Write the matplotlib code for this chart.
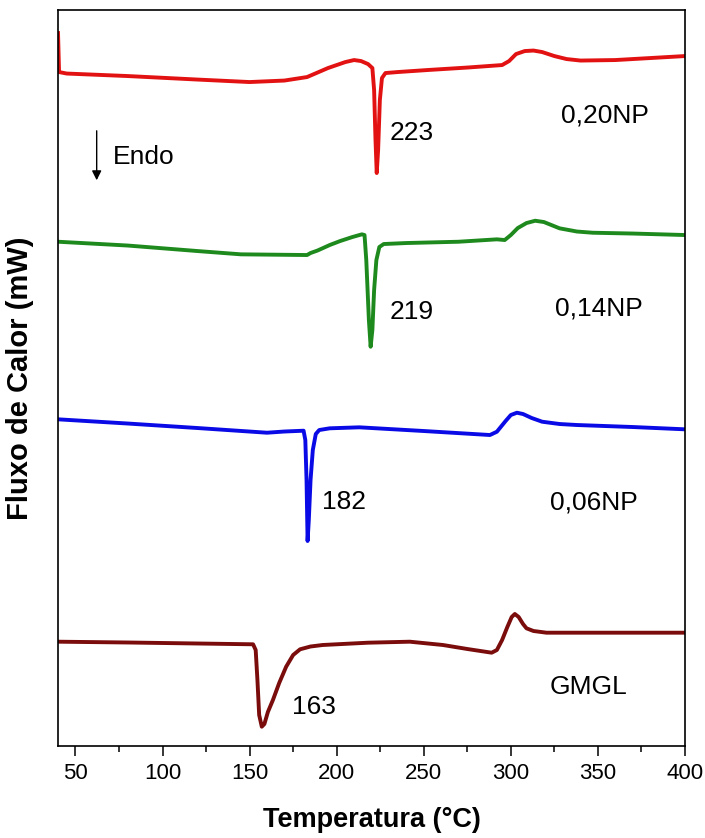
import matplotlib
matplotlib.use('Agg')
import matplotlib.pyplot as plt
from matplotlib.ticker import MultipleLocator

plt.rcParams['font.family'] = ['Liberation Sans', 'DejaVu Sans']

# DSC curves: temperature (C) and heat flow (arbitrary units)
t_020 = [40, 40.6, 45, 80, 120, 150, 170, 183, 195, 205, 210, 214, 218, 220.5, 221.5,
         222.3, 223, 223.8, 224.8, 226, 228, 235, 252, 275, 295, 299, 303, 308, 313,
         318, 325, 332, 340, 360, 380, 400]
f_020 = [805, 766, 764.5, 762, 758.5, 756, 757.5, 761, 770, 776, 778, 777, 774, 770, 748,
         698, 665, 688, 738, 760, 765, 766, 768, 770.5, 773, 777, 784, 787, 787.5,
         786, 782, 779, 777.5, 778, 780, 782]

t_014 = [40, 80, 120, 145, 183, 185, 189, 196, 202, 209, 214.5, 216, 217, 218.5, 219.5,
         220.5, 221.5, 222.8, 224.5, 227, 240, 270, 292, 296.5, 300, 304, 309, 314,
         319, 328, 338, 347, 370, 400]
f_014 = [596.3, 592.5, 587, 583.7, 583, 585, 587.5, 593, 597, 601, 603.7, 603, 578, 518, 491.3,
         508, 548, 578, 591, 594, 595, 596.3, 598.7, 598, 603, 610, 615, 617.3,
         616, 609.7, 606.5, 605.3, 604.5, 603]

t_006 = [40, 80, 120, 160, 170, 181, 182, 182.7, 183.3, 184, 185, 186.3, 188, 190, 196,
         213, 250, 288, 292, 297, 300, 303.5, 307, 312, 318, 328, 338, 370, 400]
f_006 = [418.7, 414.5, 410, 405.3, 406.5, 407.3, 398, 358, 297, 318, 358, 388, 404, 408, 409.7,
         410.7, 407, 403, 406.3, 417, 423, 425.3, 424, 420, 416.3, 414, 413, 411, 408.7]

t_gmgl = [40, 80, 120, 152, 153.5, 154.5, 155.5, 157, 158.5, 160.5, 163.4, 167, 171, 175,
          179, 185, 192, 218, 242, 261, 275, 289, 292, 295, 298, 300.5, 302.3, 304.5,
          307, 309, 313, 320.5, 400]
f_gmgl = [196.3, 195.5, 194.5, 193.7, 188, 158, 123, 111.3, 114, 126, 138, 155, 171.3, 183,
          188.7, 191.5, 193, 195.3, 196.3, 193, 189, 185.3, 188, 198, 211, 221, 224, 221,
          214, 209.7, 207, 205.3, 205.3]

sample_names = ['0,20NP', '0,14NP', '0,06NP', 'GMGL']
peak_labels = ['223', '219', '182', '163']

fig = plt.figure(figsize=(7.05, 8.38), dpi=100)
ax = fig.add_axes([0.0823, 0.1098, 0.8893, 0.8782])

ax.plot(t_020, f_020, color='#e31212', lw=2.8)
ax.plot(t_014, f_014, color='#1e8a1e', lw=2.8)
ax.plot(t_006, f_006, color='#0a0ae6', lw=2.8)
ax.plot(t_gmgl, f_gmgl, color='#7a0c0c', lw=2.8)

# peak temperatures
ax.text(230.5, 705, peak_labels[0], fontsize=19, va='center')
ax.text(230.5, 526, peak_labels[1], fontsize=19, va='center')
ax.text(191.4, 336, peak_labels[2], fontsize=19, va='center')
ax.text(174.1, 131, peak_labels[3], fontsize=19, va='center')

# sample names
ax.text(329, 723, sample_names[0], fontsize=19, va='center')
ax.text(325.3, 530, sample_names[1], fontsize=19, va='center')
ax.text(322.4, 336, sample_names[2], fontsize=19, va='center')
ax.text(322.4, 151, sample_names[3], fontsize=19, va='center')

# endo arrow
ax.annotate('', xy=(62.2, 655), xytext=(62.2, 710),
            arrowprops=dict(arrowstyle='-|>', color='black', lw=1.0, mutation_scale=14))
ax.text(71.6, 681, 'Endo', fontsize=19, va='center')

ax.set_xlim(40, 400)
ax.set_ylim(92, 828)
ax.xaxis.set_major_locator(MultipleLocator(50))
ax.xaxis.set_minor_locator(MultipleLocator(25))
ax.tick_params(axis='x', which='major', direction='out', length=7.5, width=1.1, labelsize=16, pad=5)
ax.tick_params(axis='x', which='minor', direction='out', length=4, width=1.1)
ax.set_yticks([])
for s in ax.spines.values():
    s.set_linewidth(1.2)

ax.set_xlabel('Temperatura (°C)', fontsize=19.5, fontweight='bold', labelpad=16)
ax.set_ylabel('Fluxo de Calor (mW)', fontsize=21, fontweight='bold')
ax.yaxis.set_label_coords(-0.038, 0.5)

fig.savefig('out.png', dpi=100)
